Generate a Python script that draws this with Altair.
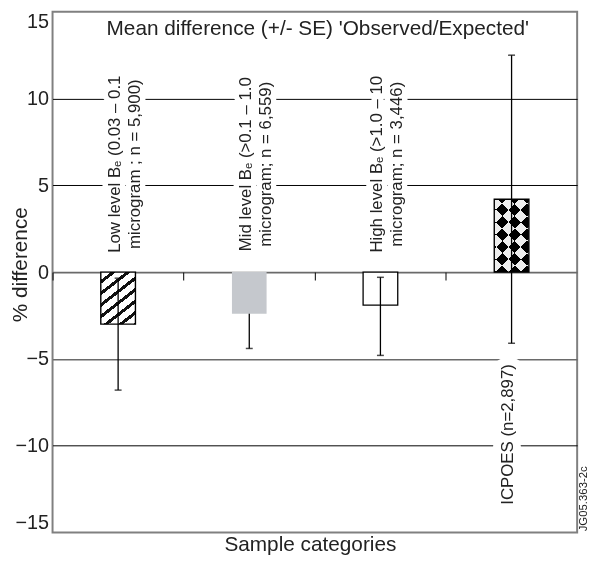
import math
import pandas as pd
import altair as alt

# ---------------- data ----------------
categories = ["Low", "Mid", "High", "ICPOES"]
mean_diff = [-3.0, -2.4, -1.9, 4.2]
err_upper = [-0.35, -0.4, -0.3, 12.5]
err_lower = [-6.8, -4.4, -4.8, -4.1]
label_line1 = ["Low level B\u2091 (0.03 \u2013 0.1", "Mid level B\u2091 (>0.1 \u2013 1.0",
               "High level B\u2091 (>1.0 \u2013 10", "ICPOES (n=2,897)"]
label_line2 = ["microgram ; n = 5,900)", "microgram; n = 6,559)", "microgram; n = 3,446)", ""]
y_ticks = [-15, -10, -5, 0, 5, 10, 15]
y_domain = [-15, 15]
chart_title = "Mean difference (+/- SE) 'Observed/Expected'"
x_title = "Sample categories"
y_title = "% difference"
figure_code = "JG05.363-2c"

# ---------------- layout / style ----------------
W, H = 530, 526
PX = H / (y_domain[1] - y_domain[0])
BAR_W = 35
FONT = "Liberation Sans"
INK = "#222222"


def stripe_fill(w, h, angle_deg, period, black_frac, phase=0.0,
                black="#111111", white="#ffffff"):
    """Linear gradient with hard stops -> stripes (objectBoundingBox units)."""
    a = math.radians(angle_deg)
    dx, dy = math.cos(a), math.sin(a)
    corners = [(0, 0), (1, 0), (0, 1), (1, 1)]
    proj = [u * w * dx + v * h * dy for u, v in corners]
    smin, smax = min(proj), max(proj)
    L = smax - smin
    cu, cv = w * dx / L, h * dy / L
    n2 = cu * cu + cv * cv
    gu, gv = cu / n2, cv / n2
    x1, y1 = corners[proj.index(smin)]
    pt = period / L

    def col(t):
        f = ((t - phase) / pt) % 1.0
        return black if f < black_frac else white

    bounds = []
    k = -2
    while True:
        b0 = phase + k * pt
        b1 = b0 + black_frac * pt
        if b0 > 1:
            break
        for b in (b0, b1):
            if 0 < b < 1:
                bounds.append(b)
        k += 1
    bounds.sort()
    stops = [{"offset": 0, "color": col(0)}]
    for b in bounds:
        stops.append({"offset": round(b, 5), "color": col(b - 1e-7)})
        stops.append({"offset": round(b, 5), "color": col(b + 1e-7)})
    stops.append({"offset": 1, "color": col(1)})
    return {"gradient": "linear", "x1": x1, "y1": y1,
            "x2": x1 + gu, "y2": y1 + gv, "stops": stops}


low_h = abs(mean_diff[0]) * PX
icp_h = abs(mean_diff[3]) * PX
low_fill = stripe_fill(BAR_W, low_h, 52, 9.2, 0.34, phase=0.1)
icp_fill_a = stripe_fill(BAR_W, icp_h, 45, 17.7, 0.5, phase=0.0)
icp_fill_b = stripe_fill(BAR_W, icp_h, -45, 17.7, 0.5, phase=0.25)

# ---------------- tables ----------------
labels = [a + ("\n" + b if b else "") for a, b in zip(label_line1, label_line2)]
df = pd.DataFrame({"cat": categories, "mean": mean_diff, "hi": err_upper,
                   "lo": err_lower, "label": labels})
caps_df = pd.DataFrame({"cat": categories + categories, "v": err_upper + err_lower})

# ---------------- shared encodings ----------------
x_axis = alt.Axis(title=x_title, labels=False, domain=False, grid=False,
                  ticks=True, tickSize=8, tickColor="black", tickWidth=1,
                  bandPosition=0, offset=-(H / 2),
                  titleFontSize=21, titleFont=FONT, titleFontWeight="normal",
                  titleColor=INK, titleX=260, titleY=H / 2 + 18,
                  titleBaseline="alphabetic", titleAlign="center")
x_scale = alt.Scale(domain=categories, paddingInner=0, paddingOuter=0)

y_axis = alt.Axis(values=y_ticks, title=y_title, grid=True, ticks=False, domain=False,
                  gridColor={"condition": {"test": "datum.value === 0 || datum.value === -5",
                                           "value": "#6a6a6a"}, "value": "#000000"},
                  gridWidth={"condition": {"test": "datum.value === 0 || datum.value === -5",
                                           "value": 1.6}, "value": 1},
                  gridOpacity={"condition": {"test": "abs(datum.value) === 15", "value": 0},
                               "value": 1},
                  labelFontSize=20, labelFont=FONT, labelColor=INK, labelPadding=4,
                  labelFlush=True, labelFlushOffset=0,
                  titleFontSize=21, titleFont=FONT, titleFontWeight="normal",
                  titleColor=INK, titleX=-26, titleY=255, titleAngle=270,
                  titleBaseline="alphabetic", titleAlign="center")
y_scale = alt.Scale(domain=y_domain, nice=False)


def X():
    return alt.X("cat:N", scale=x_scale, axis=x_axis, sort=categories)


def Y(field):
    return alt.Y(field, scale=y_scale, axis=y_axis)


base = alt.Chart(df)
caps = alt.Chart(caps_df)

is_mid = "datum.cat === 'Mid'"
not_mid = "datum.cat !== 'Mid'"

mid_rule = base.transform_filter(is_mid).mark_rule(color="black", strokeWidth=1.3).encode(
    x=X(), y=Y("lo:Q"), y2="hi:Q")
mid_caps = caps.transform_filter(is_mid).mark_tick(
    orient="horizontal", size=7, thickness=1.5, color="black").encode(x=X(), y=Y("v:Q"))

low_bar = base.transform_filter("datum.cat === 'Low'").mark_bar(
    size=BAR_W, fill=low_fill, stroke="black", strokeWidth=1.4).encode(
    x=X(), y=Y("mean:Q"), y2=alt.datum(0))
mid_bar = base.transform_filter(is_mid).mark_bar(
    size=BAR_W, fill="#c5c8cd").encode(x=X(), y=Y("mean:Q"), y2=alt.datum(0))
high_bar = base.transform_filter("datum.cat === 'High'").mark_bar(
    size=BAR_W, fill="white", stroke="black", strokeWidth=1.3).encode(
    x=X(), y=Y("mean:Q"), y2=alt.datum(0))
icp = base.transform_filter("datum.cat === 'ICPOES'")
icp_a = icp.mark_bar(size=BAR_W, fill=icp_fill_a).encode(
    x=X(), y=Y("mean:Q"), y2=alt.datum(0))
icp_b = icp.mark_bar(size=BAR_W, fill=icp_fill_b, blend="difference").encode(
    x=X(), y=Y("mean:Q"), y2=alt.datum(0))
icp_s = icp.mark_bar(size=BAR_W, fill="white", fillOpacity=0, stroke="black",
                     strokeWidth=1.4).encode(x=X(), y=Y("mean:Q"), y2=alt.datum(0))

rules = base.transform_filter(not_mid).mark_rule(color="black", strokeWidth=1.3).encode(
    x=X(), y=Y("lo:Q"), y2="hi:Q")
cap_ticks = caps.transform_filter(not_mid).mark_tick(
    orient="horizontal", size=7, thickness=1.5, color="black").encode(x=X(), y=Y("v:Q"))

top_lab = base.transform_filter("datum.cat !== 'ICPOES'")
icp_lab = base.transform_filter("datum.cat === 'ICPOES'")
txt = dict(angle=270, align="center", baseline="middle", fontSize=17, lineHeight=20,
           font=FONT, lineBreak="\n")
halo_top = top_lab.mark_text(**txt, dy=-3, color="white", stroke="white",
                             strokeWidth=11, strokeJoin="round").encode(
    x=X(), y=alt.value(154), text="label:N")
text_top = top_lab.mark_text(**txt, dy=-3, color=INK).encode(
    x=X(), y=alt.value(154), text="label:N")
halo_icp = icp_lab.mark_text(**txt, dy=-4, color="white", stroke="white",
                             strokeWidth=16, strokeJoin="round").encode(
    x=X(), y=alt.value(427), text="label:N")
text_icp = icp_lab.mark_text(**txt, dy=-4, color=INK).encode(
    x=X(), y=alt.value(427), text="label:N")

title_mark = alt.Chart(pd.DataFrame({"t": [chart_title]})).mark_text(
    fontSize=21, font=FONT, color=INK, align="center", baseline="alphabetic").encode(
    text="t:N", x=alt.value(268), y=alt.value(23))
code_mark = alt.Chart(pd.DataFrame({"t": [figure_code]})).mark_text(
    fontSize=11.5, font=FONT, color=INK, angle=270, align="center",
    baseline="alphabetic").encode(text="t:N", x=alt.value(540), y=alt.value(492))

chart = alt.layer(
    mid_rule, mid_caps,
    low_bar, mid_bar, high_bar, icp_a, icp_b, icp_s,
    rules, cap_ticks,
    halo_top, text_top, halo_icp, text_icp,
    title_mark, code_mark,
).properties(
    width=W, height=H,
    autosize=alt.AutoSizeParams(type="none"),
    padding={"left": 45, "top": 1, "right": 15, "bottom": 21},
).configure_view(stroke="#808080", strokeWidth=2)

chart.save("out.html", embed_options={"renderer": "svg", "actions": False})
